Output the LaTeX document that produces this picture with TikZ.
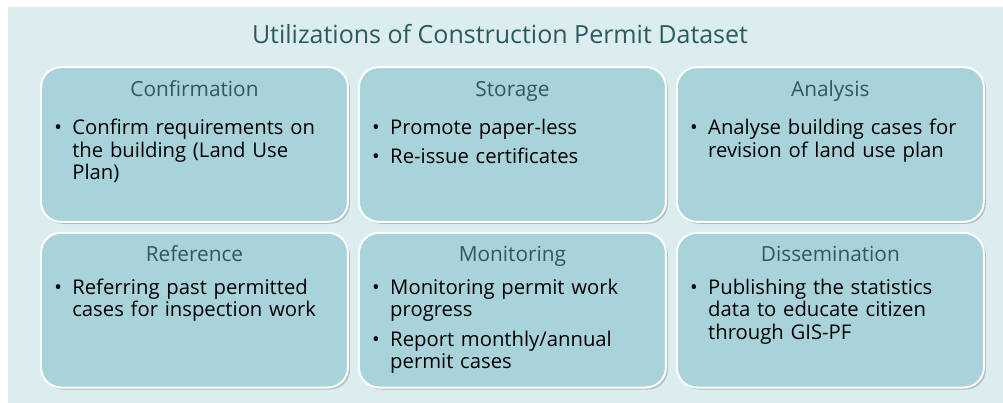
\documentclass[tikz,border=0pt]{standalone}
\usepackage{fontspec}
\setmainfont{Open Sans}
\usetikzlibrary{positioning,shadows}
\definecolor{utilbg}{HTML}{DCEDF0}
\definecolor{utilbox}{HTML}{A9D3DA}
\definecolor{utiltitle}{HTML}{2A5A5F}
\hyphenpenalty=10000
\exhyphenpenalty=10000
\newcommand{\bitem}[1]{\par\noindent\hangindent=13.5pt\hangafter=1\makebox[13.5pt][l]{\textbullet}#1\par}

\tikzset{
  usebox/.style={draw=white, line width=1.5pt, fill=utilbox, rounded corners=15pt,
    minimum width=230.2pt, minimum height=116pt, inner sep=0pt,
    drop shadow={shadow xshift=1.5pt, shadow yshift=-1.5pt, opacity=0.35, fill=black!60}},
  usehead/.style={text=utiltitle, font=\fontsize{15.6}{18}\selectfont, anchor=base, inner sep=0pt},
  usebody/.style={text width=210.25pt, align=left, anchor=north west, inner sep=0pt,
    font=\fontsize{15.2}{16.9}\selectfont\setlength{\parskip}{5pt}}
}

\begin{document}
\begin{tikzpicture}[x=0.75pt,y=-0.75pt]
  \useasboundingbox (0,0) rectangle (1003,403);
  \fill[utilbg] (8,7) rectangle (1003,403);
  \node[text=utiltitle, font=\fontsize{18.75}{22}\selectfont, anchor=base] (title) at (500,44)
    {Utilizations of Construction Permit Dataset};

  % top row
  \node[usebox] (conf) at (194.5,144.5) {};
  \node[usebox, right=6.75pt of conf] (stor) {};
  \node[usebox, right=6.75pt of stor] (anal) {};
  % bottom row
  \node[usebox, below=6.75pt of conf] (refr) {};
  \node[usebox, right=6.75pt of refr] (moni) {};
  \node[usebox, right=6.75pt of moni] (diss) {};

  \node[usehead] (confhead) at ([yshift=-22.5pt]conf.north) {Confirmation};
  \node[usehead] (storhead) at ([yshift=-22.5pt]stor.north) {Storage};
  \node[usehead] (analhead) at ([yshift=-22.5pt]anal.north) {Analysis};
  \node[usehead] (refrhead) at ([yshift=-22.5pt]refr.north) {Reference};
  \node[usehead] (monihead) at ([yshift=-22.5pt]moni.north) {Monitoring};
  \node[usehead] (disshead) at ([yshift=-22.5pt]diss.north) {Dissemination};

  \node[usebody] (confbody) at ([xshift=10.5pt,yshift=-29.25pt]conf.north west)
    {\bitem{Confirm requirements on the building (Land Use Plan)}};
  \node[usebody] (storbody) at ([xshift=10.5pt,yshift=-29.25pt]stor.north west)
    {\bitem{Promote paper-less}\bitem{Re-issue certificates}};
  \node[usebody] (analbody) at ([xshift=10.5pt,yshift=-29.25pt]anal.north west)
    {\bitem{Analyse building cases for revision of land use plan}};
  \node[usebody] (refrbody) at ([xshift=10.5pt,yshift=-24.75pt]refr.north west)
    {\bitem{Referring past permitted cases for inspection work}};
  \node[usebody] (monibody) at ([xshift=10.5pt,yshift=-24.75pt]moni.north west)
    {\bitem{Monitoring permit work progress}\bitem{Report monthly/annual permit cases}};
  \node[usebody] (dissbody) at ([xshift=10.5pt,yshift=-24.75pt]diss.north west)
    {\bitem{Publishing the statistics data to educate citizen through GIS-PF}};
\end{tikzpicture}
\end{document}
